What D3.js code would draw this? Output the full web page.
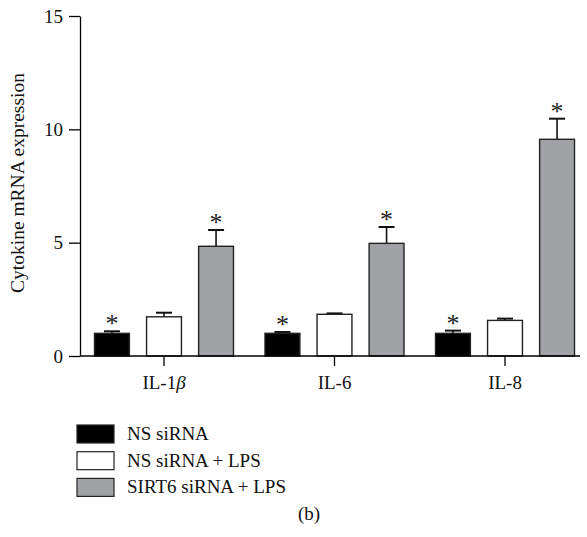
<!DOCTYPE html>
<html><head><meta charset="utf-8">
<script src="https://cdn.jsdelivr.net/npm/d3@7"></script>
<style>body{margin:0;background:#fff}svg{display:block}</style>
</head><body>
<script>
const categories = ["IL-1β", "IL-6", "IL-8"];
const seriesNames = ["NS siRNA", "NS siRNA + LPS", "SIRT6 siRNA + LPS"];
const seriesColors = ["#000000", "#ffffff", "#a1a2a5"];
const means = [
  [1.0, 1.0, 1.0],
  [1.73, 1.84, 1.57],
  [4.84, 4.97, 9.56]
];
const errors = [
  [0.09, 0.06, 0.12],
  [0.18, 0.04, 0.08],
  [0.72, 0.72, 0.91]
];
const significant = [
  [true, true, true],
  [false, false, false],
  [true, true, true]
];
const yTicks = [0, 5, 10, 15];

const W = 587, H = 537;
const font = "'Liberation Serif', 'Times New Roman', serif";
const svg = d3.select("body").append("svg").attr("width", W).attr("height", H);

const y = d3.scaleLinear().domain([0, 15]).range([356, 16]);
const x0 = d3.scaleBand().domain(categories).range([78.75, 590.25]);
const x1 = d3.scaleBand().domain(d3.range(3)).range([-69.5, 69.5]).paddingInner(0.33).paddingOuter(0);

// bars
categories.forEach((c, ci) => {
  const g = svg.append("g").attr("transform", `translate(${x0(c) + x0.bandwidth() / 2},0)`);
  d3.range(3).forEach(si => {
    const v = means[si][ci], e = errors[si][ci];
    const bx = x1(si), bw = x1.bandwidth();
    const cx = bx + bw / 2;
    g.append("line").attr("x1", cx).attr("x2", cx).attr("y1", y(v)).attr("y2", y(v + e))
      .attr("stroke", "#111").attr("stroke-width", 1.6);
    g.append("line").attr("x1", cx - 8).attr("x2", cx + 8).attr("y1", y(v + e)).attr("y2", y(v + e))
      .attr("stroke", "#111").attr("stroke-width", 2);
    g.append("rect").attr("x", bx).attr("width", bw).attr("y", y(v)).attr("height", y(0) - y(v))
      .attr("fill", seriesColors[si]).attr("stroke", "#222").attr("stroke-width", 1.4);
    if (significant[si][ci]) {
      g.append("text").attr("x", cx).attr("y", y(v + e) + 1).attr("text-anchor", "middle")
        .attr("font-family", font).attr("font-size", 26).attr("fill", "#222").text("*");
    }
  });
});

// y axis
const yAxis = svg.append("g").attr("transform", "translate(80,0)")
  .call(d3.axisLeft(y).tickValues(yTicks).tickSize(11).tickSizeOuter(0).tickPadding(6));
yAxis.select(".domain").attr("stroke", "#000").attr("stroke-width", 1.3);
yAxis.selectAll(".tick line").attr("stroke", "#000").attr("stroke-width", 1.3);
yAxis.selectAll(".tick text").attr("font-family", font).attr("font-size", 19).attr("fill", "#111");

// x axis
svg.append("line").attr("x1", 80).attr("x2", 580).attr("y1", 356).attr("y2", 356)
  .attr("stroke", "#000").attr("stroke-width", 1.3);
const xAxis = svg.append("g").attr("transform", "translate(0,356)")
  .call(d3.axisBottom(x0).tickSize(10).tickSizeOuter(0).tickFormat(() => ""));
xAxis.select(".domain").remove();
xAxis.selectAll(".tick line").attr("stroke", "#000").attr("stroke-width", 1.3);
xAxis.selectAll(".tick").each(function (d) {
  const t = d3.select(this).append("text").attr("y", 33).attr("text-anchor", "middle")
    .attr("font-family", font).attr("font-size", 19).attr("fill", "#111");
  if (d === "IL-1β") {
    t.append("tspan").text("IL-1");
    t.append("tspan").attr("font-style", "italic").text("β");
  } else {
    t.text(d);
  }
});

// y label
svg.append("text").attr("transform", "translate(24,183) rotate(-90)").attr("text-anchor", "middle")
  .attr("font-family", font).attr("font-size", 19.5).attr("fill", "#111").text("Cytokine mRNA expression");

// legend
const leg = svg.append("g").attr("transform", "translate(77,425)");
seriesNames.forEach((n, i) => {
  const r = leg.append("g").attr("transform", `translate(0,${i * 26.7})`);
  r.append("rect").attr("x", 0).attr("y", 0).attr("width", 37).attr("height", 18)
    .attr("fill", seriesColors[i]).attr("stroke", "#222").attr("stroke-width", 1.2);
  r.append("text").attr("x", 50).attr("y", 15).attr("font-family", font).attr("font-size", 19)
    .attr("fill", "#111").text(n);
});

svg.append("text").attr("x", 309).attr("y", 520).attr("text-anchor", "middle")
  .attr("font-family", font).attr("font-size", 19).attr("fill", "#111").text("(b)");
</script>
</body></html>
